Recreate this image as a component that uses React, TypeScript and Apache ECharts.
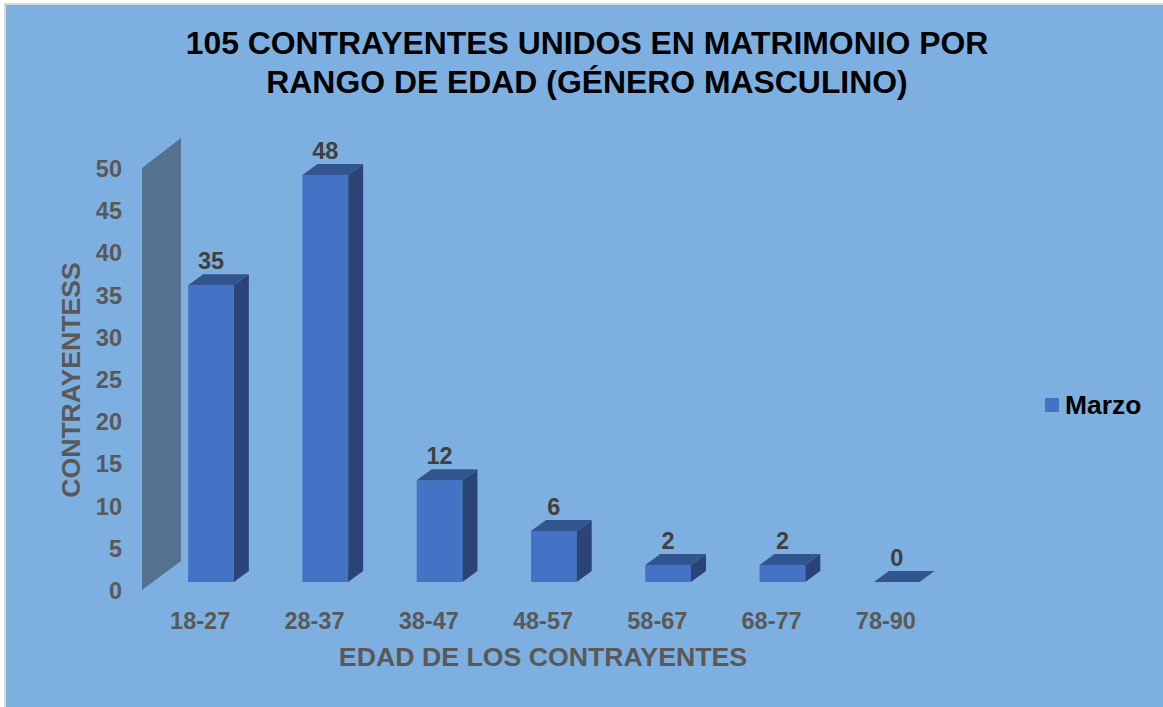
import React, { useEffect, useRef } from "react";
import * as echarts from "echarts";

const categories = ["18-27", "28-37", "38-47", "48-57", "58-67", "68-77", "78-90"];
const values = [35, 48, 12, 6, 2, 2, 0];
const seriesName = "Marzo";
const titleText = "105 CONTRAYENTES UNIDOS EN MATRIMONIO POR\nRANGO DE EDAD (GÉNERO MASCULINO)";
const xName = "EDAD DE LOS CONTRAYENTES";
const yName = "CONTRAYENTESS";

const FONT = "Liberation Sans";
const DX = 15;
const DY = 11;
const FRONT = "#4472C4";
const SIDE = "#2A4478";
const TOP = "#32548F";
const WALL = "#54718F";
const BG = "#7DB0E0";
const GRAY = "#595959";

export default function App() {
  const ref = useRef<HTMLDivElement>(null);
  useEffect(() => {
    document.body.style.margin = "0";
    document.body.style.overflow = "hidden";
    const chart = echarts.init(ref.current!, null, { renderer: "svg" });
    const renderBar = (params: any, api: any) => {
      const idx = api.value(0);
      const val = api.value(1);
      const center = api.coord([idx, 0]);
      const topPt = api.coord([idx, val]);
      const band = api.size([1, 0])[0];
      const w = band * 0.4;
      const l = center[0] - band * 0.105;
      const r = l + w;
      const b = center[1];
      const t = topPt[1];
      const children: any[] = [];
      if (val > 0) {
        children.push({ type: "rect", shape: { x: l, y: t, width: w, height: b - t }, style: { fill: FRONT } });
        children.push({
          type: "polygon",
          shape: { points: [[r, t], [r + DX, t - DY], [r + DX, b - DY], [r, b]] },
          style: { fill: SIDE },
        });
      }
      children.push({
        type: "polygon",
        shape: { points: [[l, t], [l + DX, t - DY], [r + DX, t - DY], [r, t]] },
        style: { fill: TOP },
      });
      children.push({
        type: "text",
        style: {
          x: l + w / 2,
          y: t - 24,
          text: String(val),
          fill: "#404040",
          font: `bold 23.5px "${FONT}"`,
          align: "center",
          verticalAlign: "middle",
        },
      });
      return { type: "group", children };
    };
    const renderWall = (params: any, api: any) => {
      const cs = params.coordSys;
      const bottom = cs.y + cs.height - 1;
      const top = cs.y - 1;
      const x = cs.x - 1;
      return {
        type: "polygon",
        shape: {
          points: [[x, top], [x + 39, top - 30], [x + 39, bottom - 29], [x, bottom]],
        },
        style: { fill: WALL },
      };
    };
    chart.setOption({
      animation: false,
      backgroundColor: "#FFFFFF",
      textStyle: { fontFamily: FONT },
      title: {
        text: titleText,
        left: 582,
        top: 18.5,
        textAlign: "center",
        textStyle: { fontFamily: FONT, fontSize: 31.9, fontWeight: "bold", color: "#000", lineHeight: 39 },
      },
      legend: {
        left: 1040,
        top: 387,
        itemWidth: 14,
        itemHeight: 14,
        itemGap: 0,
        icon: "rect",
        data: [seriesName],
        textStyle: { fontFamily: FONT, fontSize: 26.4, fontWeight: "bold", color: "#000", padding: [0, 0, 0, 1] },
      },
      graphic: [
        {
          type: "rect",
          z: -10,
          silent: true,
          shape: { x: 5, y: 4, width: 1160, height: 705 },
          style: { fill: BG, stroke: "#D9D9D9", lineWidth: 2 },
        },
      ],
      grid: [
        { left: 143, width: 800, top: 169, height: 422 },
        { left: 143, width: 800, top: 158, height: 424 },
      ],
      xAxis: [
        {
          type: "category",
          gridIndex: 0,
          data: categories,
          axisLine: { show: false },
          axisTick: { show: false },
          axisLabel: { margin: 18, fontFamily: FONT, fontSize: 23.5, fontWeight: "bold", color: GRAY },
          name: xName,
          nameLocation: "middle",
          nameGap: 52,
          nameTextStyle: { fontFamily: FONT, fontSize: 26.7, fontWeight: "bold", color: GRAY },
        },
        { type: "category", gridIndex: 1, data: categories, show: false },
      ],
      yAxis: [
        {
          type: "value",
          gridIndex: 0,
          min: 0,
          max: 50,
          interval: 5,
          splitLine: { show: false },
          axisLine: { show: false },
          axisTick: { show: false },
          axisLabel: { margin: 21, fontFamily: FONT, fontSize: 23.5, fontWeight: "bold", color: GRAY },
          name: yName,
          nameLocation: "middle",
          nameGap: 58,
          nameRotate: 90,
          nameTextStyle: { fontFamily: FONT, fontSize: 26.6, fontWeight: "bold", color: GRAY },
        },
        { type: "value", gridIndex: 1, min: 0, max: 50, interval: 5, show: false },
      ],
      series: [
        {
          type: "custom",
          name: "wall",
          xAxisIndex: 0,
          yAxisIndex: 0,
          renderItem: renderWall,
          data: [[0, 0]],
          silent: true,
          z: 1,
        },
        {
          type: "custom",
          name: seriesName,
          xAxisIndex: 1,
          yAxisIndex: 1,
          renderItem: renderBar,
          itemStyle: { color: FRONT },
          encode: { x: 0, y: 1 },
          data: values.map((v, i) => [i, v]),
          z: 2,
        },
      ],
    });
    return () => chart.dispose();
  }, []);
  return <div ref={ref} style={{ width: 1163, height: 707 }} />;
}
